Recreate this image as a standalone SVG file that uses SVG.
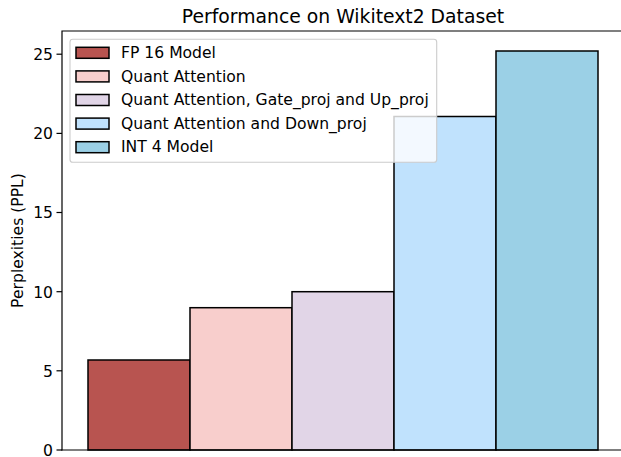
<svg xmlns="http://www.w3.org/2000/svg" width="621" height="457" viewBox="0 0 621 457">
  <style>
    text { font-family: "DejaVu Sans", "Liberation Sans", sans-serif; fill: #000; }
    .title { font-size: 18.8px; text-anchor: middle; }
    .tick { font-size: 15.6px; text-anchor: end; }
    .lab { font-size: 15.6px; text-anchor: middle; }
    .leg { font-size: 15.6px; }
    .bar { stroke: #000; stroke-width: 1.5; }
    .spine { stroke: #000; stroke-width: 1.2; fill: none; stroke-linecap: square; }
    .tk { stroke: #000; stroke-width: 1.2; }
  </style>
  <rect width="621" height="457" fill="#fff"/>

  <text class="title" x="343" y="22.5">Performance on Wikitext2 Dataset</text>

  <!-- bars -->
  <g id="bars">
    <rect class="bar" x="88" y="360" width="102" height="90" fill="#b85450"/>
    <rect class="bar" x="190" y="307.7" width="102" height="142.3" fill="#f8cecc"/>
    <rect class="bar" x="292" y="291.7" width="102" height="158.3" fill="#e1d5e7"/>
    <rect class="bar" x="394" y="116.5" width="102" height="333.5" fill="#c0e2fd"/>
    <rect class="bar" x="496" y="51" width="102" height="399" fill="#9bd0e6"/>
  </g>

  <!-- axes -->
  <g id="axes">
    <path class="spine" d="M62 450 V31 H624"/>
    <path class="spine" d="M62 450 H624"/>
    <g class="tk">
      <line x1="56.5" y1="450" x2="62" y2="450"/>
      <line x1="56.5" y1="370.8" x2="62" y2="370.8"/>
      <line x1="56.5" y1="291.7" x2="62" y2="291.7"/>
      <line x1="56.5" y1="212.5" x2="62" y2="212.5"/>
      <line x1="56.5" y1="133.4" x2="62" y2="133.4"/>
      <line x1="56.5" y1="54.2" x2="62" y2="54.2"/>
    </g>
    <text class="tick" x="53" y="455.8">0</text>
    <text class="tick" x="53" y="376.6">5</text>
    <text class="tick" x="53" y="297.5">10</text>
    <text class="tick" x="53" y="218.3">15</text>
    <text class="tick" x="53" y="139.2">20</text>
    <text class="tick" x="53" y="60">25</text>
    <text class="lab" transform="translate(22.5 240.5) rotate(-90)">Perplexities (PPL)</text>
  </g>

  <!-- legend -->
  <g id="legend">
    <rect x="70" y="39.3" width="366.7" height="123" rx="2.8" fill="#fff" fill-opacity="0.8" stroke="#cccccc" stroke-width="1.1"/>
    <g class="bar">
      <rect x="76" y="47.3" width="33" height="11" fill="#b85450"/>
      <rect x="76" y="70.9" width="33" height="11" fill="#f8cecc"/>
      <rect x="76" y="94.5" width="33" height="11" fill="#e1d5e7"/>
      <rect x="76" y="118.1" width="33" height="11" fill="#c0e2fd"/>
      <rect x="76" y="141.7" width="33" height="11" fill="#9bd0e6"/>
    </g>
    <text class="leg" x="121" y="58">FP 16 Model</text>
    <text class="leg" x="121" y="81.6">Quant Attention</text>
    <text class="leg" x="121" y="105.2">Quant Attention, Gate_proj and Up_proj</text>
    <text class="leg" x="121" y="128.8">Quant Attention and Down_proj</text>
    <text class="leg" x="121" y="152.4">INT 4 Model</text>
  </g>
</svg>
